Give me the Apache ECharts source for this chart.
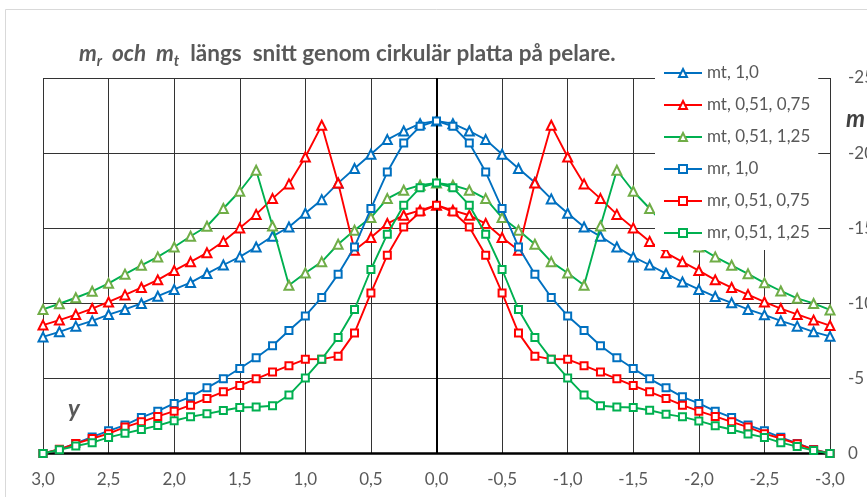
<!DOCTYPE html>
<html>
<head>
<meta charset="utf-8">
<script src="https://cdn.jsdelivr.net/npm/echarts@6/dist/echarts.min.js"></script>
<style>
html,body{margin:0;padding:0;background:#fff;}
#c{width:867px;height:497px;}
</style>
</head>
<body>
<div id="c"></div>
<script>
const xVals = [3.0,2.875,2.75,2.625,2.5,2.375,2.25,2.125,2.0,1.875,1.75,1.625,1.5,1.375,1.25,1.125,1.0,0.875,0.75,0.625,0.5,0.375,0.25,0.125,0.0,
  -0.125,-0.25,-0.375,-0.5,-0.625,-0.75,-0.875,-1.0,-1.125,-1.25,-1.375,-1.5,-1.625,-1.75,-1.875,-2.0,-2.125,-2.25,-2.375,-2.5,-2.625,-2.75,-2.875,-3.0];

const mt10 = [-7.76,-8.10,-8.48,-8.83,-9.25,-9.59,-9.99,-10.47,-10.92,-11.38,-11.98,-12.55,-13.09,-13.75,-14.46,-15.08,-16.0,-16.9,-18.0,-18.97,-19.92,-20.9,-21.47,-21.96,-22.14,
  -21.96,-21.47,-20.9,-19.92,-18.97,-18.04,-16.95,-16.0,-15.08,-14.46,-13.75,-13.09,-12.55,-11.98,-11.42,-10.92,-10.45,-10.03,-9.59,-9.23,-8.83,-8.48,-8.10,-7.80];
const mt075 = [-8.55,-8.88,-9.25,-9.65,-10.09,-10.56,-11.05,-11.56,-12.18,-12.76,-13.36,-14.12,-15.02,-15.92,-16.97,-17.95,-19.74,-21.85,-18.01,-13.53,-14.38,-15.31,-15.86,-16.19,-16.53,
  -16.19,-15.86,-15.31,-14.38,-13.53,-18.01,-21.85,-19.74,-17.95,-16.97,-15.92,-15.02,-14.12,-13.36,-12.76,-12.18,-11.56,-11.05,-10.58,-10.09,-9.65,-9.26,-8.88,-8.52];
const mt125 = [-9.59,-9.97,-10.37,-10.8,-11.33,-11.94,-12.53,-13.09,-13.75,-14.46,-15.13,-16.31,-17.46,-18.86,-15.15,-11.2,-12.02,-12.76,-13.93,-14.86,-15.71,-16.97,-17.53,-17.86,-18.01,
  -17.86,-17.53,-16.97,-15.71,-14.86,-13.93,-12.76,-12.02,-11.2,-15.15,-18.86,-17.46,-16.31,-15.13,-14.46,-13.75,-13.09,-12.53,-11.96,-11.36,-10.82,-10.33,-9.99,-9.56];
const mr10 = [0,-0.27,-0.67,-1.1,-1.51,-1.89,-2.4,-2.82,-3.33,-3.77,-4.37,-4.98,-5.66,-6.37,-7.17,-8.19,-9.16,-10.39,-11.94,-13.75,-16.31,-18.74,-20.67,-21.78,-22.14,
  -21.78,-20.67,-18.74,-16.31,-13.75,-11.94,-10.39,-9.16,-8.19,-7.17,-6.37,-5.66,-4.97,-4.37,-3.77,-3.33,-2.82,-2.4,-1.89,-1.51,-1.08,-0.67,-0.27,0];
const mr075 = [0,-0.28,-0.66,-1.0,-1.32,-1.76,-2.11,-2.47,-2.82,-3.22,-3.67,-4.11,-4.52,-4.97,-5.42,-5.85,-6.27,-6.28,-6.48,-8.03,-10.69,-13.2,-15.08,-16.08,-16.53,
  -16.08,-15.08,-13.2,-10.69,-8.03,-6.48,-6.28,-6.27,-5.85,-5.42,-4.97,-4.52,-4.11,-3.67,-3.22,-2.82,-2.47,-2.11,-1.76,-1.32,-1.0,-0.65,-0.25,0];
const mr125 = [0,-0.25,-0.5,-0.72,-1.07,-1.34,-1.6,-1.86,-2.18,-2.45,-2.64,-2.86,-3.06,-3.1,-3.18,-3.89,-5.03,-6.28,-7.72,-9.59,-12.25,-14.6,-16.53,-17.7,-18.01,
  -17.7,-16.53,-14.6,-12.25,-9.59,-7.72,-6.28,-5.03,-3.89,-3.18,-3.1,-3.06,-2.88,-2.62,-2.44,-2.17,-1.85,-1.6,-1.3,-1.07,-0.72,-0.46,-0.2,0];

const seriesNames = ['mt, 1,0','mt, 0,51, 0,75','mt, 0,51, 1,25','mr, 1,0','mr, 0,51, 0,75','mr, 0,51, 1,25'];
const seriesValues = [mt10, mt075, mt125, mr10, mr075, mr125];
const xTicks = [3.0,2.5,2.0,1.5,1.0,0.5,0.0,-0.5,-1.0,-1.5,-2.0,-2.5,-3.0];
const yTicks = [0,-5,-10,-15,-20,-25];

const FONT = 'Lato, "Liberation Sans", sans-serif';
const GREY = '#595959';
const styles = [
  {line:'#0070C0', mark:'#0070C0', sym:'emptyTriangle', size:9},
  {line:'#FF0000', mark:'#FF0000', sym:'emptyTriangle', size:9},
  {line:'#00B050', mark:'#70AD47', sym:'emptyTriangle', size:9},
  {line:'#0070C0', mark:'#0070C0', sym:'emptyRect', size:7},
  {line:'#FF0000', mark:'#FF0000', sym:'emptyRect', size:7},
  {line:'#00B050', mark:'#00B050', sym:'emptyRect', size:7}
];

const series = seriesNames.map((name, k) => {
  const s = {
    name: name,
    type: 'line',
    data: xVals.map((x, i) => [x, seriesValues[k][i]]),
    symbol: styles[k].sym,
    symbolSize: styles[k].size,
    showAllSymbol: true,
    lineStyle: {color: styles[k].line, width: 1.9},
    itemStyle: {color: styles[k].mark, borderColor: styles[k].mark, borderWidth: 1.8},
    emphasis: {disabled: true},
    animation: false,
    z: 3 + k
  };
  if (k === 0) {
    s.markLine = {
      silent: true, symbol: ['none','none'], label: {show: false},
      lineStyle: {color: '#000', width: 2, type: 'solid'},
      data: [{xAxis: 0}], animation: false
    };
  }
  return s;
});

const chart = echarts.init(document.getElementById('c'), null, {renderer: 'canvas'});
chart.setOption({
  animation: false,
  backgroundColor: '#fff',
  textStyle: {fontFamily: FONT},
  title: {
    left: 74, top: 34,
    text: '{i|m}{s|r}{i|  och  m}{s|t}{b|  längs  snitt genom cirkulär platta på pelare.}',
    textStyle: {
      rich: {
        i: {fontFamily: FONT, fontSize: 22.5, fontWeight: 'bold', fontStyle: 'italic', color: GREY, lineHeight: 30, verticalAlign: 'middle'},
        s: {fontFamily: FONT, fontSize: 15, fontWeight: 'bold', fontStyle: 'italic', color: GREY, lineHeight: 12, verticalAlign: 'bottom'},
        b: {fontFamily: FONT, fontSize: 22.5, fontWeight: 'bold', color: GREY, lineHeight: 30, verticalAlign: 'middle'}
      }
    }
  },
  legend: {
    orient: 'vertical',
    left: 655, top: 56,
    padding: [8, 8, 8, 8],
    backgroundColor: '#fff',
    itemWidth: 38, itemHeight: 10, itemGap: 14,
    data: seriesNames,
    textStyle: {fontFamily: FONT, fontSize: 17, color: GREY, lineHeight: 18},
    z: 20
  },
  grid: {left: 43, top: 78, width: 787, height: 375.5, containLabel: false, outerBoundsMode: 'none'},
  xAxis: {
    type: 'value', min: -3, max: 3, interval: 0.5, inverse: true,
    axisLine: {show: true, onZero: false, lineStyle: {color: '#000', width: 2.5}},
    axisTick: {show: false},
    splitLine: {show: true, lineStyle: {color: '#333', width: 1}},
    axisLabel: {
      margin: 18, fontSize: 17, color: GREY, fontFamily: FONT,
      formatter: v => (Math.abs(v) < 1e-9 ? 0 : v).toFixed(1).replace('.', ',')
    }
  },
  yAxis: {
    type: 'value', min: -25, max: 0, interval: 5, inverse: true, position: 'right',
    axisLine: {show: false}, axisTick: {show: false},
    splitLine: {show: true, lineStyle: {color: '#333', width: 1}},
    axisLabel: {margin: 18, fontSize: 17, color: GREY, fontFamily: FONT, align: 'left',
      formatter: v => String(v === 0 ? 0 : v)}
  },
  graphic: [
    {type: 'rect', silent: true, z: -10, shape: {x: 5.5, y: 9.5, width: 900, height: 600},
      style: {fill: 'none', stroke: '#d9d9d9', lineWidth: 1}},
    {type: 'text', silent: true, x: 68, y: 409, z: 30,
      style: {text: 'y', fontFamily: FONT, fontSize: 24, fontWeight: 'bold', fontStyle: 'italic', fill: GREY, align: 'left', verticalAlign: 'middle'}},
    {type: 'text', silent: true, x: 846, y: 119, z: 30,
      style: {text: 'm', fontFamily: FONT, fontSize: 24, fontWeight: 'bold', fontStyle: 'italic', fill: '#404040', align: 'left', verticalAlign: 'middle'}}
  ],
  series: series
});
</script>
</body>
</html>
